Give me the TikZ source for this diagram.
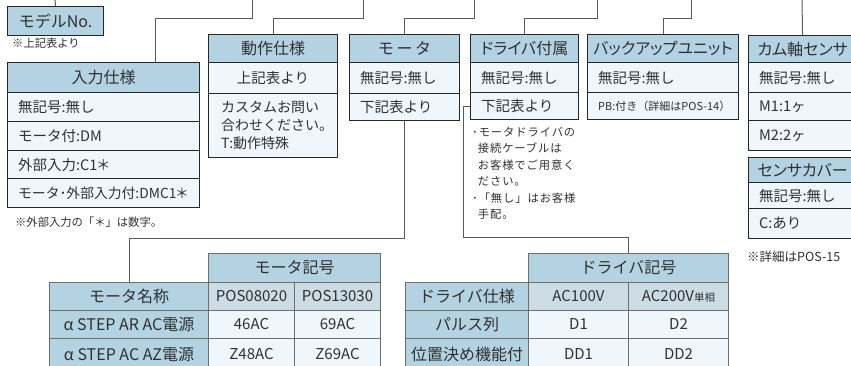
\documentclass[tikz,border=0pt]{standalone}
\usepackage{fontspec}
\setmainfont{Noto Sans CJK JP}
\newfontfamily\jpalt[RawFeature={+palt}]{Noto Sans CJK JP}
\newfontfamily\notefont[LetterSpace=8]{Noto Sans CJK JP}
\definecolor{hdrblue}{HTML}{B3D3E3}
\definecolor{rowfill}{HTML}{EFF7FC}
\definecolor{tblgray}{HTML}{CCDCE5}
\definecolor{boxline}{HTML}{262626}
\definecolor{tblline}{HTML}{6E6E6E}
\definecolor{connline}{HTML}{5A5A5A}
\definecolor{txtcol}{HTML}{303030}
\newcommand\MyAst{\makebox[0.8em][c]{＊}}
\newcommand\MyBC[7]{\node[#6, minimum width=#4pt, minimum height=#5pt] (#1) at (#2,#3) {#7};}
\newcommand\MyBL[7]{\node[#6, minimum width=#4pt, minimum height=#5pt] (#1) at (#2,#3) {};
  \node[txt] (#1t) at ([xshift=11pt]#1.west) {#7};}
\tikzset{
  box/.style={draw=boxline, line width=1.1pt, inner sep=0pt, anchor=north west},
  hb/.style={box, fill=hdrblue, font=\fontsize{16}{18}\selectfont},
  hbk/.style={box, fill=hdrblue, font=\jpalt\fontsize{16}{18}\selectfont},
  rb/.style={box, fill=rowfill},
  tb/.style={draw=tblline, line width=1pt, inner sep=0pt, anchor=north west, font=\fontsize{15}{17}\selectfont},
  th/.style={tb, fill=hdrblue},
  tn/.style={tb, fill=hdrblue, font=\fontsize{16}{18}\selectfont},
  tg/.style={tb, fill=tblgray},
  td/.style={tb, fill=rowfill},
  txt/.style={inner sep=0pt, anchor=west},
  smalltxt/.style={inner sep=0pt, anchor=west, font=\fontsize{11.3}{13}\selectfont},
  conn/.style={draw=connline, line width=1pt},
}
\begin{document}
\begin{tikzpicture}[x=1pt, y=-1pt, font=\fontsize{14.5}{17}\selectfont, text=txtcol]
\useasboundingbox (0,0) rectangle (851,366);
% top coordinates
\coordinate (top1) at (55,0);
\coordinate (top2) at (252,0);
\coordinate (top3) at (363,0);
\coordinate (top4) at (474,0);
\coordinate (top5) at (597,0);
\coordinate (top6) at (691,0);
\coordinate (top7) at (802,0);
% model no
\MyBC{model}{7}{6}{96}{29}{hb}{モデルNo.}
\node[smalltxt] (n1) at (12,43) {※上記表より};
% input spec
\MyBC{inH}{7}{62}{192}{30}{hb}{入力仕様}
\MyBL{inR1}{7}{92}{192}{29}{rb}{無記号:無し}
\MyBL{inR2}{7}{121}{192}{29}{rb}{モータ付:DM}
\MyBL{inR3}{7}{150}{192}{28}{rb}{外部入力:C1\MyAst}
\MyBL{inR4}{7}{178}{192}{29}{rb}{\fontsize{13.8}{16}\selectfont モータ･外部入力付:DMC1\MyAst}
\node[smalltxt] (n2) at (15,222) {※外部入力の「＊」は数字。};
% operation spec
\MyBC{opH}{208}{34}{129}{28}{hb}{動作仕様}
\MyBC{opR1}{208}{62}{129}{31}{rb}{上記表より}
\node[rb, minimum width=129pt, minimum height=64pt] (opR2) at (208,93) {};
\node[txt, align=left, font=\fontsize{14}{18}\selectfont] (opR2t) at ([xshift=13pt]opR2.west) {カスタムお問い\\合わせください。\\T:動作特殊};
% motor
\MyBC{moH}{349}{34}{110}{28}{hb}{モ\,ー\,タ}
\MyBL{moR1}{349}{62}{110}{31}{rb}{無記号:無し}
\MyBL{moR2}{349}{93}{110}{27}{rb}{下記表より}
% driver attached
\MyBC{drH}{470}{34}{108}{28}{hbk}{ドライバ付属}
\MyBL{drR1}{470}{62}{108}{30}{rb}{無記号:無し}
\MyBL{drR2}{470}{92}{108}{27}{rb}{下記表より}
\node[inner sep=0pt, anchor=north west, align=left, font=\notefont\fontsize{11.3}{16.4}\selectfont] (drN) at (472,127)
 {･モータドライバの\\\phantom{･}接続ケーブルは\\\phantom{･}お客様でご用意く\\\phantom{･}ださい。\\･「無し」はお客様\\\phantom{･}手配。};
% backup unit
\MyBC{buH}{587}{34}{151}{28}{hbk}{バックアップユニット}
\MyBL{buR1}{587}{62}{151}{30}{rb}{無記号:無し}
\MyBL{buR2}{587}{92}{151}{27}{rb}{\fontsize{11}{13}\selectfont PB:付き（詳細はPOS-14）}
% cam sensor
\MyBC{caH}{748}{35}{108}{27}{hbk}{カム軸センサ}
\MyBL{caR1}{748}{62}{108}{30}{rb}{無記号:無し}
\MyBL{caR2}{748}{92}{108}{28}{rb}{M1:1ヶ}
\MyBL{caR3}{748}{120}{108}{30}{rb}{M2:2ヶ}
% sensor cover
\MyBC{scH}{748}{157}{108}{25}{hbk}{センサカバー}
\MyBL{scR1}{748}{182}{108}{26}{rb}{無記号:無し}
\MyBL{scR2}{748}{208}{108}{30}{rb}{C:あり}
\node[smalltxt, font=\fontsize{12.5}{14}\selectfont] (n3) at (747,257) {※詳細はPOS-15};
% motor table
\MyBC{mtH}{208}{253}{172}{29}{tn}{モータ記号}
\MyBC{mtN}{49}{282}{159}{28}{tn}{モータ名称}
\MyBC{mtA}{208}{282}{86}{28}{tg}{POS08020}
\MyBC{mtB}{294}{282}{86}{28}{tg}{POS13030}
\MyBC{mtN1}{49}{310}{159}{28}{tn}{α STEP AR AC電源}
\MyBC{mtA1}{208}{310}{86}{28}{td}{46AC}
\MyBC{mtB1}{294}{310}{86}{28}{td}{69AC}
\MyBC{mtN2}{49}{338}{159}{32}{tn}{α STEP AC AZ電源}
\MyBC{mtA2}{208}{338}{86}{32}{td}{Z48AC}
\MyBC{mtB2}{294}{338}{86}{32}{td}{Z69AC}
% driver table
\MyBC{dvH}{528}{253}{200}{29}{tn}{ドライバ記号}
\MyBC{dvN}{405}{282}{123}{28}{tn}{ドライバ仕様}
\MyBC{dvA}{528}{282}{100}{28}{tg}{AC100V}
\MyBC{dvB}{628}{282}{100}{28}{tg}{AC200V{\fontsize{10.5}{12}\selectfont 単相}}
\MyBC{dvN1}{405}{310}{123}{28}{tn}{パルス列}
\MyBC{dvA1}{528}{310}{100}{28}{td}{D1}
\MyBC{dvB1}{628}{310}{100}{28}{td}{D2}
\MyBC{dvN2}{405}{338}{123}{32}{tn}{位置決め機能付}
\MyBC{dvA2}{528}{338}{100}{32}{td}{DD1}
\MyBC{dvB2}{628}{338}{100}{32}{td}{DD2}
% connectors
\draw[conn] (model.north) -- (top1);
\draw[conn] ([xshift=148pt]inH.north west) |- ([yshift=-19pt]top2) -- (top2);
\draw[conn] (opH.north) |- ([yshift=-19pt]top3) -- (top3);
\draw[conn] (moH.north) |- ([yshift=-19pt]top4) -- (top4);
\draw[conn] (drH.north) |- ([yshift=-19pt]top5) -- (top5);
\draw[conn] (buH.north) |- ([yshift=-19pt]top6) -- (top6);
\draw[conn] (caH.north) -- (top7);
\coordinate (mj) at (0,238);
\draw[conn] (moR2.south) |- (mtN.north |- mj) -- (mtN.north);
\coordinate (dj) at (463,237);
\draw[conn] (drR2.west) -| (dj) -| (dvH.north);
\end{tikzpicture}
\end{document}
